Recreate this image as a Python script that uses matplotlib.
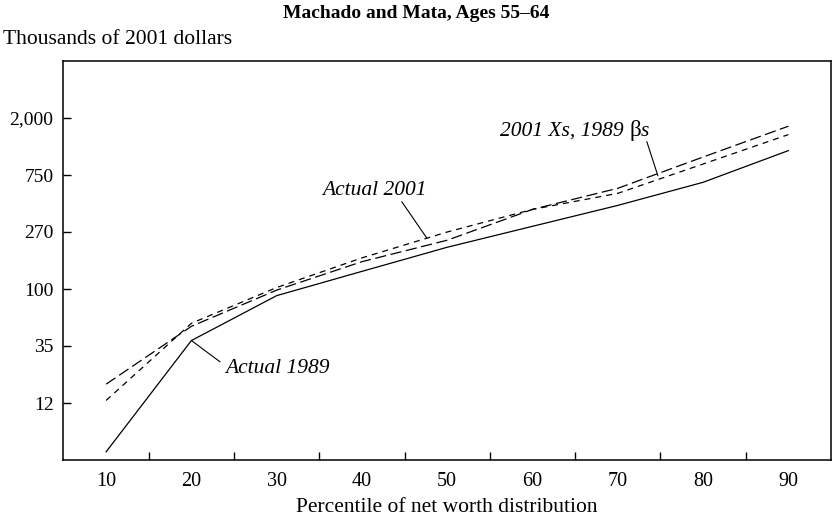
import numpy as np
import matplotlib
matplotlib.use("Agg")
import matplotlib.pyplot as plt
from matplotlib.ticker import FixedLocator, NullLocator
from matplotlib.offsetbox import TextArea, HPacker, AnnotationBbox


# data (thousands of 2001 dollars)
percentiles = [10, 20, 30, 40, 50, 60, 70, 80, 90]
actual_1989 = [4.8, 38.7, 88.5, 136, 207, 299, 435, 658, 1141]
actual_2001 = [12.6, 53.2, 102.6, 172, 270, 405, 540, 906, 1503]
xs01_bs89 = [17.1, 50.3, 98.0, 161, 234, 405, 591, 1022, 1736]

ytick_vals = [12, 35, 100, 270, 750, 2000]
ytick_labels = ["12", "35", "100", "270", "750", "2,000"]
xtick_vals = [10, 20, 30, 40, 50, 60, 70, 80, 90]


# y axis: evenly spaced ticks, log interpolation between them
lt = np.log(ytick_vals)
pos = np.arange(len(lt), dtype=float)

def fwd(v):
    l = np.log(np.maximum(np.asarray(v, dtype=float), 1e-9))
    out = np.interp(l, lt, pos)
    out = np.where(l < lt[0], (l - lt[0]) / (lt[1] - lt[0]), out)
    out = np.where(l > lt[-1], pos[-1] + (l - lt[-1]) / (lt[-1] - lt[-2]), out)
    return out

def inv(p):
    p = np.asarray(p, dtype=float)
    l = np.interp(p, pos, lt)
    l = np.where(p < 0, lt[0] + p * (lt[1] - lt[0]), l)
    l = np.where(p > pos[-1], lt[-1] + (p - pos[-1]) * (lt[-1] - lt[-2]), l)
    return np.exp(l)


plt.rcParams["font.family"] = ["Liberation Serif", "DejaVu Serif"]

fig = plt.figure(figsize=(8.33, 5.23), dpi=100)
ax = fig.add_axes([63.5 / 833, 63 / 523, 767.5 / 833, 399 / 523])

ax.set_yscale("function", functions=(fwd, inv))

lw = 0.9
ax.plot(percentiles, actual_1989, color="black", lw=lw, solid_joinstyle="miter")
ax.plot(percentiles, actual_2001, color="black", lw=lw, dashes=(4.8, 4.0))
ax.plot(percentiles, xs01_bs89, color="black", lw=lw, dashes=(9.0, 3.6))

ax.set_xlim(5, 95)
ax.set_ylim(float(inv(-1.0)), float(inv(6.0)))

# x: labels at 10..90, tick marks between them
ax.xaxis.set_major_locator(FixedLocator(xtick_vals))
ax.xaxis.set_minor_locator(FixedLocator([15, 25, 35, 45, 55, 65, 75, 85]))
ax.tick_params(axis="x", which="major", length=0, pad=9, labelsize=14.5)
ax.tick_params(axis="x", which="minor", direction="in", length=5.8, width=1.0)

ax.yaxis.set_major_locator(FixedLocator(ytick_vals))
ax.yaxis.set_minor_locator(NullLocator())
ax.set_yticklabels(ytick_labels)
ax.tick_params(axis="y", which="major", direction="in", length=5.5, width=1.0,
               pad=7.2, labelsize=14)

for sp in ax.spines.values():
    sp.set_linewidth(1.1)

ax.set_xlabel("Percentile of net worth distribution", fontsize=15.5, labelpad=5)

fig.text(0.5, 1 - 14 / 523, "Machado and Mata, Ages 55\u201364",
         ha="center", va="center", fontsize=14, fontweight="bold")
fig.text(3 / 833, 1 - 39 / 523, "Thousands of 2001 dollars",
         ha="left", va="center", fontsize=15.5)

# labels with pointer lines
arrow = dict(arrowstyle="-", lw=0.8, color="black", shrinkA=0, shrinkB=0)
lab_size = 15.5

ax.annotate("", xy=(percentiles[1], actual_1989[1]), xycoords="data",
            xytext=(0.204, 0.246), textcoords="axes fraction", arrowprops=arrow)
ax.text(0.279, 0.230, "Actual 1989", transform=ax.transAxes,
        ha="center", va="center", fontsize=lab_size, style="italic")

ax.annotate("", xy=(47.6, 243), xycoords="data",
            xytext=(0.4407, 0.6474), textcoords="axes fraction", arrowprops=arrow)
ax.text(0.4046, 0.675, "Actual 2001", transform=ax.transAxes,
        ha="center", va="center", fontsize=lab_size, style="italic")

ax.annotate("", xy=(74.7, 740), xycoords="data",
            xytext=(0.760, 0.798), textcoords="axes fraction", arrowprops=arrow)
it_props = dict(fontsize=lab_size, style="italic")
label3 = HPacker(children=[TextArea("2001 Xs, 1989 ", textprops=it_props),
                           TextArea("\u03b2", textprops=dict(fontsize=lab_size + 1)),
                           TextArea("s", textprops=it_props)],
                 align="baseline", pad=0, sep=0)
ax.add_artist(AnnotationBbox(label3, (0.6665, 0.827), xycoords="axes fraction",
                             frameon=False, box_alignment=(0.5, 0.5), pad=0))

fig.savefig("out.png", dpi=100)
